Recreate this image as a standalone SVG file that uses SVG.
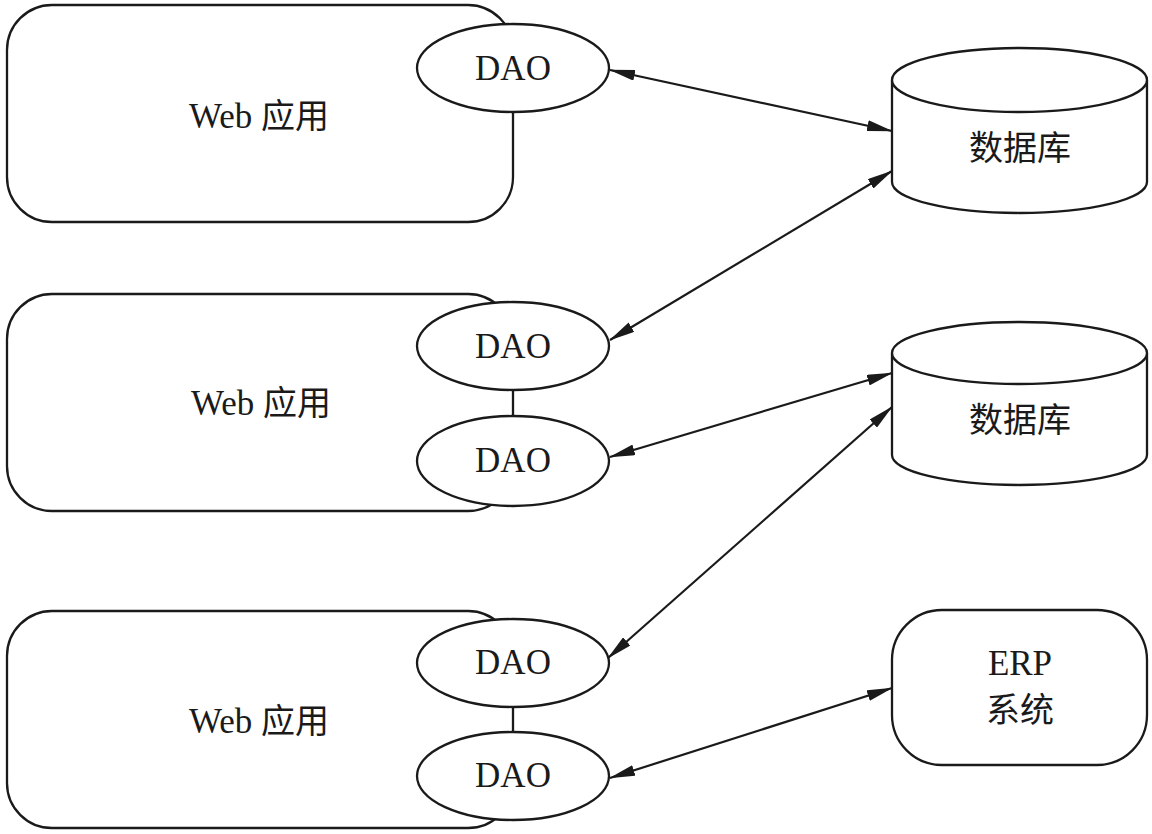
<svg xmlns="http://www.w3.org/2000/svg" width="1152" height="834" viewBox="0 0 1152 834">
<defs>
<style>
.shape{fill:#fff;stroke:#1a1a1a;stroke-width:2.3}
.lbl{font-family:"Liberation Serif","Noto Sans CJK SC",serif;font-size:35px;fill:#1a1a1a;text-anchor:middle}
.cjk{font-family:"Noto Sans CJK SC","Liberation Sans",sans-serif;font-size:34px;fill:#1a1a1a;text-anchor:middle}
.conn{stroke:#1a1a1a;stroke-width:2.2;fill:none;marker-start:url(#arr);marker-end:url(#arr)}
</style>
<marker id="arr" viewBox="0 0 26 11" refX="25" refY="5.5" markerWidth="26" markerHeight="11" markerUnits="userSpaceOnUse" orient="auto-start-reverse">
<path d="M0,0 L26,5.5 L0,11 z" fill="#1a1a1a"/>
</marker>
</defs>
<rect width="1152" height="834" fill="#fff"/>

<g id="web1">
<rect class="shape" x="7" y="5" width="506" height="217" rx="45"/>
<text class="lbl" x="259" y="128">Web <tspan font-family="Noto Sans CJK SC, sans-serif" font-size="34">应用</tspan></text>
</g>
<g id="web2">
<rect class="shape" x="7" y="294" width="506" height="217" rx="45"/>
<text class="lbl" x="261" y="415">Web <tspan font-family="Noto Sans CJK SC, sans-serif" font-size="34">应用</tspan></text>
</g>
<g id="web3">
<rect class="shape" x="7" y="611" width="506" height="217" rx="45"/>
<text class="lbl" x="259" y="733">Web <tspan font-family="Noto Sans CJK SC, sans-serif" font-size="34">应用</tspan></text>
</g>

<g id="dao1">
<ellipse class="shape" cx="513" cy="68" rx="96" ry="44"/>
<text class="lbl" x="513" y="80">DAO</text>
</g>
<g id="dao2a">
<ellipse class="shape" cx="513" cy="346" rx="96" ry="44"/>
<text class="lbl" x="513" y="358">DAO</text>
</g>
<g id="dao2b">
<ellipse class="shape" cx="513" cy="461" rx="96" ry="45"/>
<text class="lbl" x="513" y="472">DAO</text>
</g>
<g id="dao3a">
<ellipse class="shape" cx="513" cy="663" rx="96" ry="44"/>
<text class="lbl" x="513" y="674">DAO</text>
</g>
<g id="dao3b">
<ellipse class="shape" cx="513" cy="776" rx="96" ry="44"/>
<text class="lbl" x="513" y="787">DAO</text>
</g>

<g id="db1">
<path class="shape" d="M892,80 L892,182 A127.5,31 0 0 0 1147,182 L1147,80"/>
<ellipse class="shape" cx="1019.5" cy="80" rx="127.5" ry="32"/>
<text class="cjk" x="1020" y="160">数据库</text>
</g>
<g id="db2">
<path class="shape" d="M892,353 L892,455 A127.5,30 0 0 0 1147,455 L1147,353"/>
<ellipse class="shape" cx="1019.5" cy="353" rx="127.5" ry="31"/>
<text class="cjk" x="1020" y="432">数据库</text>
</g>
<g id="erp">
<rect class="shape" x="892" y="610" width="255" height="155" rx="50"/>
<text class="lbl" x="1020" y="675">ERP</text>
<text class="cjk" x="1020" y="722">系统</text>
</g>

<g id="connectors">
<line class="conn" x1="610" y1="70" x2="892" y2="131"/>
<line class="conn" x1="892" y1="171" x2="610" y2="340"/>
<line class="conn" x1="892" y1="373" x2="610" y2="457"/>
<line class="conn" x1="892" y1="407" x2="608" y2="658"/>
<line class="conn" x1="892" y1="688" x2="610" y2="778"/>
</g>
</svg>
